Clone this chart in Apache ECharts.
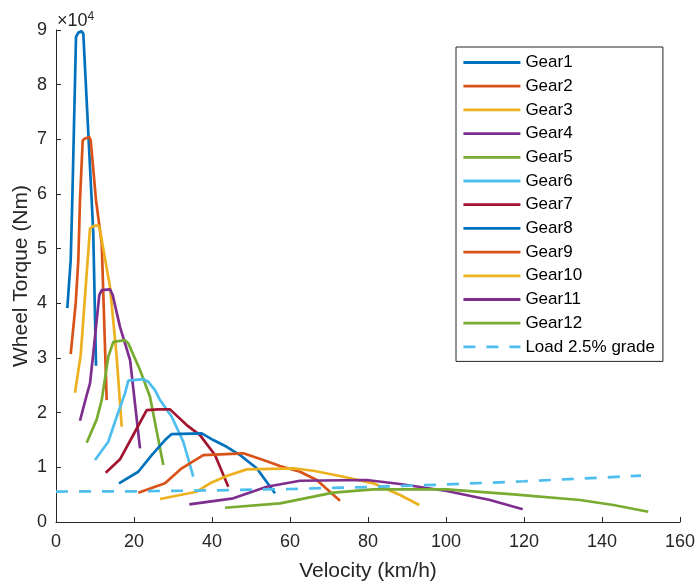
<!DOCTYPE html>
<html>
<head>
<meta charset="utf-8">
<script src="https://cdn.jsdelivr.net/npm/echarts@6/dist/echarts.min.js"></script>
<style>html,body{margin:0;padding:0;background:#fff;}#c{width:699px;height:586px;}</style>
</head>
<body>
<div id="c"></div>
<script>
const seriesNames = ['Gear1','Gear2','Gear3','Gear4','Gear5','Gear6','Gear7','Gear8','Gear9','Gear10','Gear11','Gear12','Load 2.5% grade'];
const xTicks = [0,20,40,60,80,100,120,140,160];
const yTicks = [0,1,2,3,4,5,6,7,8,9];

const gear1V = [2.90,3.77,4.18,5.13,5.72,6.59,7.00,9.15,9.56,10.26];
const gear1T = [39120,47890,58860,88720,89520,89750,89330,58860,52830,28570];
const gear2V = [3.77,5.05,5.72,6.15,6.85,7.44,8.54,8.90,10.26,11.72,13.0];
const gear2T = [30710,39980,47890,58860,69830,70140,70430,69830,58860,50950,22300];
const gear3V = [4.87,6.33,8.72,9.56,10.85,11.28,13.85,15.56,16.85];
const gear3T = [23640,30530,53690,54110,54290,53380,43010,30220,17420];
const gear4V = [6.15,7.87,8.72,9.56,11.10,11.72,13.85,14.54,16.41,19.0,21.54];
const gear4T = [18520,23220,25350,30840,41500,42410,42540,41500,35700,29610,13470];
const gear5V = [7.87,10.44,11.72,13.41,14.69,17.69,18.54,21.54,24.1,27.51];
const gear5T = [14500,18770,22300,30220,32960,33270,32670,27790,22900,10420];
const gear6V = [10.0,13.41,15.56,17.69,18.54,22.38,23.67,25.38,26.67,29.67,32.64,35.2];
const gear6T = [11330,14680,19250,23530,25870,26140,25650,24130,22300,19250,14680,8280];
const gear7V = [12.74,16.41,20.26,23.26,26.23,29.23,33.51,36.92,40.77,44.18];
const gear7T = [9010,11460,16510,20470,20600,20600,17730,15900,12250,6450];
const gear8V = [16.15,21.1,24.54,27.95,29.67,37.36,40.33,43.77,47.18,51.46,56.15];
const gear8T = [7070,9190,12250,14990,16090,16210,14990,13760,12250,9820,5250];
const gear9V = [21.1,27.95,32.23,37.77,48.03,53.15,57.44,62.56,66.85,72.82];
const gear9T = [5360,7070,9820,12250,12560,11330,10240,9190,7680,3890];
const gear10V = [26.67,36.08,39.49,43.77,48.9,60.85,65.97,72.82,81.36,88.21,93.15];
const gear10T = [4200,5540,7070,8410,9630,9820,9380,8410,7070,4940,3110];
const gear11V = [34.18,45.46,54.03,62.56,79.67,88.21,100.18,111.28,119.67];
const gear11T = [3240,4330,6450,7550,7680,6950,5670,4020,2320];
const gear12V = [43.33,57.44,71.1,81.36,100.18,117.26,134.36,142.9,151.87];
const gear12T = [2610,3420,5360,5980,5980,5060,4020,3110,1880];
const loadV = [0,20,40,60,80,100,120,140,150];
const loadT = [5570,5620,5780,6040,6400,6870,7450,8120,8500];

const gearV = [gear1V,gear2V,gear3V,gear4V,gear5V,gear6V,gear7V,gear8V,gear9V,gear10V,gear11V,gear12V,loadV];
const gearT = [gear1T,gear2T,gear3T,gear4T,gear5T,gear6T,gear7T,gear8T,gear9T,gear10T,gear11T,gear12T,loadT];
const colors = ['#0072BD','#D95319','#EDB120','#7E2F8E','#77AC30','#4DBEEE','#A2142F','#0072BD','#D95319','#EDB120','#7E2F8E','#77AC30','#4DBEEE'];

const FONT = '"Liberation Sans", Arial, Helvetica, sans-serif';
const AX = '#262626';

const series = seriesNames.map((name, i) => ({
  name: name,
  type: 'line',
  symbol: 'none',
  animation: false,
  data: gearV[i].map((v, k) => [v, gearT[i][k]]),
  lineStyle: { color: colors[i], width: 2.7, type: i === 12 ? [12, 11] : 'solid' },
  itemStyle: { color: colors[i] },
  z: 2 + i
}));

const chart = echarts.init(document.getElementById('c'), null, { renderer: 'canvas' });
chart.setOption({
  animation: false,
  backgroundColor: '#fff',
  textStyle: { fontFamily: FONT },
  grid: { left: 56, right: 19, top: 30, bottom: 64, containLabel: false, outerBoundsMode: 'none' },
  xAxis: {
    type: 'value', min: 0, max: 160, interval: 20,
    name: 'Velocity (km/h)', nameLocation: 'middle', nameGap: 39, nameMoveOverlap: false,
    nameTextStyle: { fontSize: 21, color: AX, fontFamily: FONT },
    axisLine: { show: true, lineStyle: { color: AX, width: 1 } },
    axisTick: { show: true, inside: true, length: 5, lineStyle: { color: AX } },
    axisLabel: { fontSize: 18, color: AX, margin: 11, fontFamily: FONT,
      formatter: v => String(xTicks[Math.round(v / 20)]) },
    splitLine: { show: false }
  },
  yAxis: {
    type: 'value', min: 0, max: 90000, interval: 10000,
    name: 'Wheel Torque (Nm)', nameLocation: 'middle', nameGap: 24, nameMoveOverlap: false,
    nameTextStyle: { fontSize: 21, color: AX, fontFamily: FONT },
    axisLine: { show: true, lineStyle: { color: AX, width: 1 } },
    axisTick: { show: true, inside: true, length: 5, lineStyle: { color: AX } },
    axisLabel: { fontSize: 18, color: AX, margin: 9, fontFamily: FONT,
      formatter: v => String(yTicks[Math.round(v / 10000)]) },
    splitLine: { show: false }
  },
  legend: {
    orient: 'vertical', left: 456, top: 47,
    padding: [7, 8, 6, 6],
    itemWidth: 57, itemHeight: 14, itemGap: 6.7,
    borderColor: AX, borderWidth: 1, backgroundColor: '#fff',
    itemStyle: { opacity: 0 },
    lineStyle: { width: 2.8 },
    textStyle: { fontSize: 17, color: '#000', fontFamily: FONT },
    data: seriesNames
  },
  graphic: [{
    type: 'text', left: 57, top: 11,
    style: {
      text: '×10{s|4}',
      font: '18px ' + FONT, fill: AX,
      rich: { s: { fontSize: 12, verticalAlign: 'top', padding: [0, 0, 9, 0], fill: AX, fontFamily: FONT } }
    }
  }],
  series: series
});
</script>
</body>
</html>
